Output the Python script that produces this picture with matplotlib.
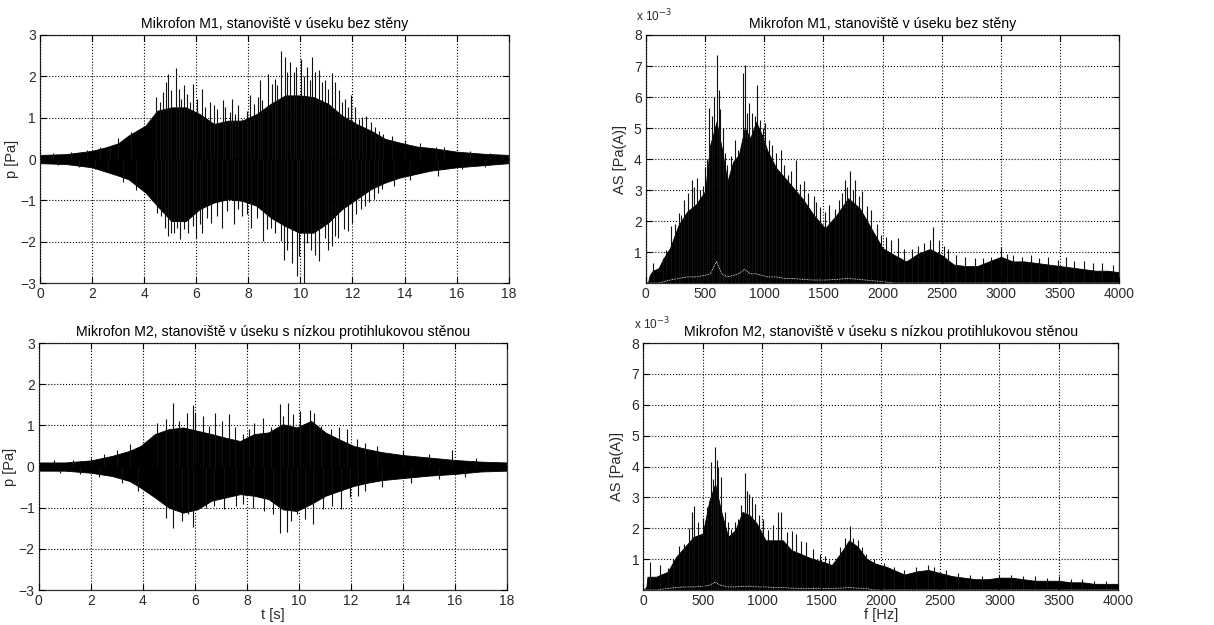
import matplotlib
matplotlib.use("Agg")
import matplotlib.pyplot as plt
import numpy as np

plt.rcParams['font.family'] = ['Liberation Sans', 'DejaVu Sans']

# ---------------------------------------------------------------------------
# DATA
# ---------------------------------------------------------------------------
# M1 time signal: dense body envelope, p [Pa]
m1_t = [0, 1, 2, 2.5, 3, 3.4, 4.05, 4.5, 5.04, 5.6, 6.13, 6.68, 7.23, 7.77, 8.32,
        8.87, 9.42, 9.96, 10.5, 11.06, 11.6, 12.15, 12.7, 13.25, 13.8, 14.5,
        15, 16, 17, 18]
m1_up = [0.1, 0.12, 0.2, 0.28, 0.38, 0.57, 0.81, 1.17, 1.25, 1.25, 1.09, 0.85,
         0.93, 0.93, 1.09, 1.34, 1.54, 1.54, 1.5, 1.34, 1.05, 0.85, 0.69, 0.49,
         0.4, 0.3, 0.27, 0.18, 0.13, 0.1]
m1_lo = [-0.1, -0.12, -0.2, -0.3, -0.4, -0.49, -0.81, -1.13, -1.5, -1.5, -1.21,
         -1.05, -0.97, -1.01, -1.13, -1.42, -1.62, -1.78, -1.78, -1.54, -1.21,
         -0.97, -0.73, -0.57, -0.45, -0.35, -0.28, -0.2, -0.15, -0.1]
# M1 single peaks (t [s], p [Pa])
m1_pk_t = [0.5, 1.2, 1.8, 2.3, 2.7, 3.0, 3.5, 4.46, 4.6, 4.71, 4.82, 4.93, 5.04,
           5.24, 5.35, 5.42, 5.53, 5.64, 5.75, 5.89, 6.02, 6.22, 6.35, 6.52,
           6.68, 6.79, 7.01, 7.12, 7.28, 7.39, 7.5, 7.61, 7.77, 7.94, 8.08,
           8.21, 8.38, 8.45, 8.54, 8.76, 8.92, 9.03, 9.09, 9.25, 9.39, 9.47,
           9.61, 9.77, 9.85, 10.01, 10.13, 10.24, 10.35, 10.46, 10.56, 10.73,
           10.84, 10.95, 11.06, 11.2, 11.33, 11.49, 11.6, 11.71, 11.82, 11.93,
           12.1, 12.26, 12.37, 12.53, 12.7, 12.86, 13.03, 13.19, 13.5, 14.0,
           14.6, 15.2, 15.5, 16.5, 17.3,
           0.7, 1.5, 2.1, 2.6, 3.2, 3.7, 4.38, 4.49, 4.66, 4.8, 4.93, 5.04,
           5.15, 5.26, 5.37, 5.53, 5.7, 5.86, 6.0, 6.13, 6.22, 6.41, 6.57,
           6.79, 6.99, 7.17, 7.45, 7.61, 7.75, 7.94, 8.1, 8.32, 8.56, 8.7, 8.87,
           9.03, 9.25, 9.36, 9.47, 9.66, 9.88, 9.96, 10.15, 10.24, 10.4, 10.56,
           10.73, 10.95, 11.06, 11.2, 11.33, 11.44, 11.66, 11.82, 11.99, 12.15,
           12.32, 12.48, 12.64, 12.81, 12.97, 13.14, 13.6, 14.2, 15.3, 16.2,
           17.1]
m1_pk_p = [0.15, 0.17, 0.22, 0.28, 0.32, 0.5, 0.65, 1.5, 1.38, 1.62, 1.86, 2.06,
           1.66, 2.19, 1.7, 1.46, 1.78, 1.58, 1.38, 1.82, 1.46, 1.7, 1.26, 1.38,
           1.3, 1.21, 1.42, 1.26, 1.13, 1.46, 1.09, 1.3, 0.97, 1.17, 1.54, 1.34,
           1.5, 1.92, 1.42, 2.06, 1.82, 1.94, 1.78, 2.61, 2.47, 2.1, 2.35, 2.11,
           2.23, 2.41, 2.02, 2.23, 1.9, 2.47, 2.1, 2.15, 1.86, 1.9, 1.7, 2.09,
           1.86, 1.66, 1.38, 1.46, 1.26, 1.54, 1.26, 0.97, 1.01, 1.05, 0.89,
           0.77, 0.69, 0.61, 0.55, 0.45, 0.4, 0.3, 0.3, 0.2, 0.15,
           -0.15, -0.18, -0.24, -0.3, -0.55, -0.75, -0.89, -1.3, -1.38, -1.66,
           -1.86, -1.78, -1.78, -1.66, -1.94, -1.7, -1.78, -1.62, -1.9, -1.58,
           -1.78, -1.42, -1.54, -1.38, -1.66, -1.26, -1.58, -1.21, -1.38, -1.34,
           -1.66, -1.42, -1.98, -1.7, -1.66, -1.78, -1.98, -2.43, -2.19, -2.51,
           -2.83, -2.35, -3.04, -2.02, -2.19, -2.31, -2.47, -1.9, -2.19, -2.11,
           -1.86, -1.9, -1.7, -1.74, -1.54, -1.34, -1.21, -1.13, -1.05, -0.97,
           -0.81, -0.73, -0.65, -0.5, -0.4, -0.25, -0.18]

# M2 time signal
m2_t = [0, 1, 2, 2.82, 3.48, 3.91, 4.46, 5.0, 5.55, 6.1, 6.64, 7.19, 7.74, 8.28,
        8.83, 9.38, 9.92, 10.47, 11.02, 11.56, 12.11, 12.66, 13.2, 14, 15, 16,
        17, 18]
m2_up = [0.1, 0.1, 0.15, 0.26, 0.38, 0.5, 0.79, 0.91, 0.95, 0.87, 0.79, 0.7,
         0.62, 0.79, 0.83, 1.03, 0.95, 1.11, 0.83, 0.66, 0.5, 0.42, 0.35, 0.28,
         0.22, 0.16, 0.12, 0.1]
m2_lo = [-0.1, -0.1, -0.15, -0.23, -0.35, -0.51, -0.75, -1.0, -1.12, -1.04,
         -0.83, -0.75, -0.67, -0.71, -0.79, -1.04, -1.08, -0.91, -0.71, -0.59,
         -0.47, -0.39, -0.33, -0.28, -0.22, -0.18, -0.12, -0.1]
m2_pk_t = [0.6, 1.3, 2.0, 2.5, 3.0, 3.5, 4.55, 4.9, 5.17, 5.39, 5.68, 5.93, 6.01,
           6.32, 6.54, 6.78, 7.03, 7.32, 7.55, 7.85, 8.07, 8.28, 8.61, 8.94,
           9.27, 9.4, 9.6, 9.76, 10.03, 10.42, 10.58, 10.85, 11.23, 11.56,
           11.84, 12.22, 12.55, 13.0, 14.0, 15.0, 15.9, 16.8,
           0.8, 1.6, 2.3, 3.2, 3.8, 4.9, 5.17, 5.5, 5.75, 5.93, 6.43, 6.75,
           7.14, 7.57, 7.85, 8.23, 8.67, 9.0, 9.27, 9.54, 9.68, 9.92, 10.25,
           10.56, 10.91, 11.29, 11.62, 11.95, 12.27, 12.55, 13.2, 14.3, 15.4,
           16.4]
m2_pk_p = [0.15, 0.16, 0.22, 0.3, 0.4, 0.55, 1.07, 1.15, 1.55, 1.11, 1.31, 1.5,
           1.31, 1.23, 0.99, 1.29, 1.11, 1.27, 0.95, 0.79, 0.91, 1.07, 1.19,
           0.95, 1.53, 1.23, 1.55, 1.27, 1.35, 1.37, 1.31, 0.99, 0.91, 0.95,
           0.91, 0.66, 0.58, 0.5, 0.4, 0.3, 0.4, 0.2,
           -0.15, -0.18, -0.25, -0.4, -0.6, -1.24, -1.5, -1.32, -1.16, -1.48,
           -1.0, -0.96, -1.04, -0.96, -0.91, -1.0, -1.08, -1.16, -1.62, -1.6,
           -1.32, -1.16, -1.28, -1.4, -1.04, -0.96, -1.04, -0.75, -0.71, -0.59,
           -0.5, -0.4, -0.3, -0.25]

# M1 amplitude spectrum, AS [Pa(A)] in units of 1e-3
as1_f = [0, 20, 34, 60, 107, 150, 204, 277, 350, 422, 500, 544, 597, 641, 689,
         738, 786, 835, 883, 932, 980, 1029, 1102, 1175, 1248, 1320, 1417, 1515,
         1612, 1709, 1806, 1903, 2000, 2097, 2200, 2300, 2400, 2500, 2600, 2700,
         2800, 2900, 3000, 3100, 3200, 3300, 3400, 3500, 3600, 3700, 3800, 3900,
         4000]
as1_up = [0, 0.05, 0.27, 0.4, 0.48, 0.8, 1.13, 1.88, 2.31, 2.53, 2.96, 4.46, 5.2,
          4.35, 3.28, 3.92, 4.14, 5.0, 4.68, 5.2, 4.78, 4.25, 3.71, 3.39, 3.06,
          2.74, 2.2, 1.77, 2.2, 2.74, 2.42, 1.77, 1.13, 0.91, 0.7, 0.95, 1.1,
          0.9, 0.6, 0.55, 0.55, 0.7, 0.85, 0.7, 0.7, 0.65, 0.6, 0.55, 0.5, 0.45,
          0.4, 0.4, 0.35]
as1_pk_f = [58, 143, 167, 216, 250, 277, 300, 325, 360, 386, 410, 434, 460, 483,
            500, 520, 536, 563, 580, 597, 617, 630, 648, 670, 689, 720, 750, 775,
            799, 825, 840, 855, 871, 896, 920, 942, 968, 990, 1010, 1040, 1068,
            1100, 1146, 1170, 1199, 1230, 1265, 1300, 1332, 1370, 1417, 1440,
            1471, 1510, 1551, 1600, 1636, 1660, 1680, 1700, 1728, 1750, 1769,
            1800, 1830, 1870, 1903, 1950, 1988, 2030, 2073, 2133, 2180, 2250,
            2300, 2350, 2400, 2423, 2480, 2520, 2550, 2620, 2700, 2780, 2850,
            2920, 3000, 3050, 3100, 3180, 3250, 3320, 3400, 3480, 3550, 3620,
            3700, 3780, 3850, 3950]
as1_pk_v = [0.65, 0.81, 1.08, 1.83, 1.9, 2.26, 2.2, 2.69, 2.9, 3.33, 3.1, 3.39,
            3.0, 3.12, 3.76, 4.0, 5.65, 5.38, 6.0, 7.37, 6.24, 5.6, 5.0, 4.2,
            3.82, 4.1, 4.62, 4.3, 4.19, 6.77, 7.04, 5.5, 5.81, 5.48, 5.4, 6.4,
            5.27, 5.0, 5.16, 4.6, 4.46, 4.2, 4.3, 3.8, 3.49, 3.6, 3.98, 3.2,
            3.28, 2.9, 2.8, 2.6, 2.47, 2.3, 2.53, 2.4, 2.69, 2.9, 3.33, 3.1, 3.6,
            3.0, 3.33, 2.8, 2.96, 2.5, 2.37, 1.9, 1.56, 1.5, 1.4, 1.45, 1.1, 1.1,
            1.2, 1.3, 1.4, 1.8, 1.4, 1.2, 1.1, 0.9, 0.85, 0.8, 0.8, 0.85, 1.15,
            0.95, 0.9, 0.85, 0.9, 0.8, 0.85, 0.75, 0.85, 0.7, 0.7, 0.65, 0.65,
            0.6]
# faint inner trace near the bottom (white speckle)
as1_in = [0, 0, 0, 0, 0, 0.05, 0.1, 0.15, 0.2, 0.2, 0.25, 0.3, 0.7, 0.3, 0.2,
          0.25, 0.3, 0.45, 0.3, 0.3, 0.25, 0.2, 0.2, 0.15, 0.15, 0.12, 0.1,
          0.1, 0.12, 0.15, 0.12, 0.08, 0.05, 0, 0, 0, 0, 0, 0, 0, 0, 0, 0, 0, 0,
          0, 0, 0, 0, 0, 0, 0, 0]

# M2 amplitude spectrum
as2_f = [0, 25, 34, 107, 204, 277, 350, 422, 500, 556, 604, 653, 714, 774, 835,
         896, 956, 1029, 1102, 1175, 1248, 1320, 1417, 1515, 1587, 1660, 1733,
         1806, 1879, 1951, 2049, 2146, 2200, 2300, 2400, 2500, 2600, 2700, 2800,
         2900, 3000, 3100, 3200, 3300, 3400, 3500, 3600, 3700, 3800, 3900, 4000]
as2_up = [0, 0.1, 0.43, 0.43, 0.59, 1.08, 1.4, 1.72, 1.83, 2.9, 3.44, 2.58, 1.72,
          1.94, 2.53, 2.42, 2.15, 1.61, 1.61, 1.61, 1.29, 1.18, 1.02, 0.91, 0.81,
          1.18, 1.61, 1.4, 1.02, 0.86, 0.75, 0.59, 0.5, 0.6, 0.65, 0.55, 0.45,
          0.4, 0.35, 0.35, 0.4, 0.4, 0.35, 0.3, 0.3, 0.3, 0.25, 0.25, 0.2, 0.2,
          0.2]
as2_pk_f = [58, 136, 204, 250, 296, 340, 380, 410, 430, 460, 500, 536, 568, 585,
            604, 620, 631, 653, 689, 710, 738, 769, 800, 823, 859, 875, 888, 913,
            940, 976, 1010, 1048, 1090, 1138, 1162, 1211, 1250, 1284, 1330, 1369,
            1430, 1490, 1530, 1563, 1620, 1660, 1697, 1738, 1770, 1806, 1840,
            1879, 1939, 2024, 2109, 2200, 2300, 2400, 2450, 2550, 2650, 2750,
            2850, 3000, 3100, 3200, 3300, 3400, 3500, 3600, 3700, 3800, 3900]
as2_pk_v = [0.91, 0.81, 0.7, 1.0, 1.42, 1.5, 2.0, 2.53, 2.71, 2.2, 2.34, 2.69,
            4.14, 3.6, 4.65, 4.2, 3.98, 3.66, 2.53, 2.2, 1.99, 2.2, 2.3, 2.74,
            3.78, 3.2, 3.12, 3.01, 2.8, 2.42, 2.3, 1.94, 2.1, 2.53, 2.53, 1.88,
            1.9, 1.83, 1.6, 1.56, 1.34, 1.18, 1.1, 0.97, 1.0, 1.4, 1.7, 2.06,
            1.7, 1.61, 1.4, 1.18, 1.02, 0.86, 0.75, 0.65, 0.75, 0.8, 0.75, 0.65,
            0.55, 0.5, 0.45, 0.5, 0.5, 0.45, 0.45, 0.4, 0.45, 0.35, 0.35, 0.3,
            0.3]
as2_in = [0, 0, 0, 0, 0.05, 0.08, 0.1, 0.1, 0.12, 0.15, 0.25, 0.15, 0.1, 0.1,
          0.12, 0.12, 0.1, 0.1, 0.08, 0.08, 0.06, 0.05, 0.05, 0.05, 0.05, 0.06,
          0.08, 0.06, 0.05, 0, 0, 0, 0, 0, 0, 0, 0, 0, 0, 0, 0, 0, 0, 0, 0, 0,
          0, 0, 0, 0, 0]

titles = ["Mikrofon M1, stanoviště v úseku bez stěny",
          "Mikrofon M2, stanoviště v úseku s nízkou protihlukovou stěnou"]

# ---------------------------------------------------------------------------
# PLOT
# ---------------------------------------------------------------------------
fig = plt.figure(figsize=(12.14, 6.25), dpi=100)
ax_tl = fig.add_axes([0.033, 0.547, 0.386, 0.397])
ax_tr = fig.add_axes([0.532, 0.547, 0.390, 0.397])
ax_bl = fig.add_axes([0.032, 0.056, 0.3855, 0.395])
ax_br = fig.add_axes([0.530, 0.056, 0.391, 0.395])

grey = '#2a2a2a'


def style(ax):
	ax.grid(True, linestyle=':', color='black', linewidth=0.8)
	ax.set_axisbelow(False)
	ax.tick_params(direction='in', length=4, labelsize=10, top=True, right=True,
	               labelcolor=grey, pad=3)
	for s in ax.spines.values():
		s.set_linewidth(0.9)
		s.set_color('#333333')


for ax, tt, up, lo, pt, pp, title in [
		(ax_tl, m1_t, m1_up, m1_lo, m1_pk_t, m1_pk_p, titles[0]),
		(ax_bl, m2_t, m2_up, m2_lo, m2_pk_t, m2_pk_p, titles[1])]:
	ax.fill_between(tt, lo, up, color='black', linewidth=0.6, edgecolor='black')
	ax.vlines(pt, 0, pp, color='#111111', linewidth=0.8)
	ax.set_xlim(0, 18)
	ax.set_ylim(-3, 3)
	ax.set_xticks(np.arange(0, 19, 2))
	ax.set_yticks(np.arange(-3, 4, 1))
	ax.set_ylabel("p [Pa]", fontsize=10.5, color=grey, labelpad=1)
	ax.set_title(title, fontsize=10.2, pad=5)
	style(ax)

for ax, ff, up, inner, pf, pv, title in [
		(ax_tr, as1_f, as1_up, as1_in, as1_pk_f, as1_pk_v, titles[0]),
		(ax_br, as2_f, as2_up, as2_in, as2_pk_f, as2_pk_v, titles[1])]:
	ax.fill_between(ff, 0, up, color='black', linewidth=0.6, edgecolor='black')
	ax.vlines(pf, 0, pv, color='#111111', linewidth=0.8)
	ax.plot(ff, inner, color='white', linewidth=0.6, linestyle=(0, (1, 1)))
	ax.set_xlim(0, 4000)
	ax.set_ylim(0, 8)
	ax.set_xticks(np.arange(0, 4001, 500))
	ax.set_yticks(np.arange(1, 9, 1))
	ax.set_ylabel("AS [Pa(A)]", fontsize=10.5, color=grey, labelpad=5)
	ax.set_title(title, fontsize=10.2, pad=5)
	ax.text(-0.02, 1.045, "x 10$^{-3}$", transform=ax.transAxes, fontsize=8.5,
	        color=grey, ha='left', va='bottom')
	style(ax)

ax_bl.set_xlabel("t [s]", fontsize=10.5, color=grey, labelpad=0)
ax_br.set_xlabel("f [Hz]", fontsize=10.5, color=grey, labelpad=0)

fig.savefig("out.png", dpi=100)
